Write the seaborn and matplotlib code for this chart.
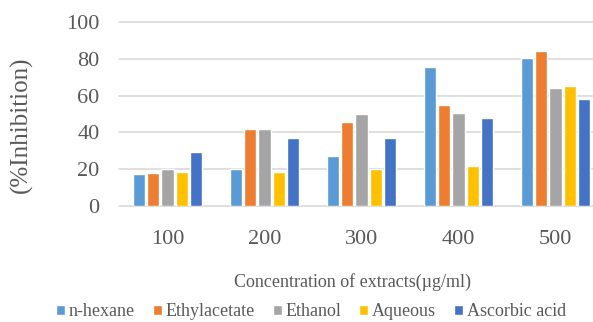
import matplotlib
matplotlib.use("Agg")
import matplotlib.pyplot as plt
import seaborn as sns
import pandas as pd

concentrations = ["100", "200", "300", "400", "500"]
series_names = ["n-hexane", "Ethylacetate", "Ethanol", "Aqueous", "Ascorbic acid"]
n_hexane = [17.5, 20, 27, 75.5, 80.5]
ethylacetate = [18, 42, 45.5, 55, 84]
ethanol = [20, 42, 50, 50.5, 64]
aqueous = [18.5, 18.5, 20, 22, 65]
ascorbic_acid = [29.5, 37, 37, 48, 58]
colors = ["#5B9BD5", "#ED7D31", "#A5A5A5", "#FFC000", "#4472C4"]
y_ticks = [0, 20, 40, 60, 80, 100]

rows = []
for name, vals in zip(series_names, [n_hexane, ethylacetate, ethanol, aqueous, ascorbic_acid]):
    for c, v in zip(concentrations, vals):
        rows.append({"Concentration": c, "Series": name, "Value": v})
df = pd.DataFrame(rows)

sns.set_theme(style="white")
plt.rcParams["font.family"] = ["Liberation Serif", "DejaVu Serif"]
text_color = "#595959"

fig = plt.figure(figsize=(5.93, 3.22), dpi=100)
ax = fig.add_axes([119 / 593, 116 / 322, 485 / 593, 184 / 322])

sns.barplot(data=df, x="Concentration", y="Value", hue="Series",
            order=concentrations, hue_order=series_names, palette=colors,
            width=0.73, gap=0.15, saturation=1, ax=ax, legend=True)

ax.set_xlim(-0.5, 4.5)
ax.set_ylim(0, 100)
ax.set_yticks(y_ticks)
ax.set_axisbelow(True)
ax.grid(axis="y", color="#D9D9D9", linewidth=1.2)
for gl in ax.get_ygridlines():
    gl.set_clip_on(False)
for s in ax.spines.values():
    s.set_visible(False)

ax.tick_params(axis="both", length=0, colors=text_color, labelsize=16)
ax.tick_params(axis="y", pad=14)
ax.tick_params(axis="x", pad=17)

ax.set_xlabel("Concentration of extracts(µg/ml)", fontsize=13, color=text_color)
ax.xaxis.set_label_coords(0.482, -0.365)
ax.set_ylabel("(%Inhibition)", fontsize=18, color=text_color)
ax.yaxis.set_label_coords(-0.178, 0.44)

handles, labels = ax.get_legend_handles_labels()
ax.get_legend().remove()
leg = fig.legend(handles, labels, loc="center", bbox_to_anchor=(311 / 593, 1 - 312 / 322),
                 ncol=5, frameon=False, fontsize=13, handlelength=0.5, handleheight=0.5,
                 handletextpad=0.2, columnspacing=1.0, borderpad=0)
for t in leg.get_texts():
    t.set_color(text_color)

fig.savefig("out.png", dpi=100)
